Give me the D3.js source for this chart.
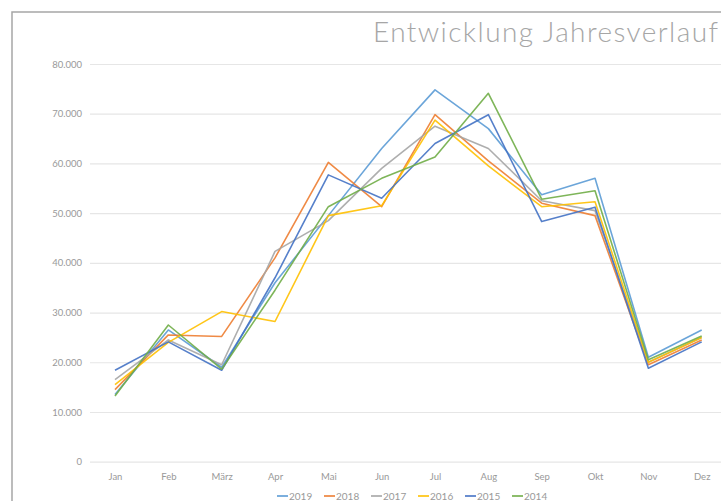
<!DOCTYPE html>
<html><head><meta charset="utf-8">
<script src="https://cdn.jsdelivr.net/npm/d3@7"></script>
<style>
html,body{margin:0;padding:0;background:#fff;overflow:hidden}
svg{display:block}
text{font-family:Lato,"Open Sans",sans-serif}
</style></head>
<body><svg id="c" width="721" height="501"></svg>
<script>
const months = ["Jan","Feb","März","Apr","Mai","Jun","Jul","Aug","Sep","Okt","Nov","Dez"];
const yTicks = [0,10000,20000,30000,40000,50000,60000,70000,80000];
const seriesNames = ["2019","2018","2017","2016","2015","2014"];
const seriesColors = ["#5B9BD5","#ED7D31","#A5A5A5","#FFC000","#4472C4","#70AD47"];
const v2019 = [13500,26500,19000,36000,49500,63000,74800,67000,53700,57000,21000,26500];
const v2018 = [14500,25500,25200,41000,60200,51300,69800,60500,52000,49500,19500,24500];
const v2017 = [16500,24500,19500,42300,48500,59000,67500,63000,52500,50500,20000,25000];
const v2016 = [15500,24000,30200,28200,49500,51500,68700,59500,51300,52300,20000,25000];
const v2015 = [18400,24100,18400,37000,57700,53000,64000,69800,48300,51200,18800,24100];
const v2014 = [13200,27500,18600,34500,51300,57000,61300,74100,52800,54500,20500,25300];
const seriesValues = [v2019,v2018,v2017,v2016,v2015,v2014];

const svg = d3.select("#c");
const W = 721, H = 501;
// chart border
svg.append("rect").attr("x",12).attr("y",12).attr("width",W).attr("height",H)
  .attr("fill","none").attr("stroke","#a6a6a6").attr("stroke-width",1.5);

const x = d3.scalePoint().domain(months).range([115, 701.7]);
const y = d3.scaleLinear().domain([0,80000]).range([461.7, 64]);
const de = d3.formatLocale({decimal:",",thousands:".",grouping:[3],currency:["","€"]});
const fmt = de.format(",.0f");

const gy = svg.append("g").attr("transform","translate(90,0)")
  .call(d3.axisLeft(y).tickValues(yTicks).tickFormat(fmt).tickSizeInner(-(W-90)).tickSizeOuter(0).tickPadding(8));
gy.select(".domain").remove();
gy.selectAll(".tick line").attr("stroke","#e6e6e6").attr("stroke-width",1.2);
gy.selectAll(".tick text").attr("fill","#999").style("font-size","9.5px");

const gx = svg.append("g").attr("transform",`translate(0,${y(0)})`)
  .call(d3.axisBottom(x).tickSize(0).tickPadding(12));
gx.select(".domain").remove();
gx.selectAll(".tick text").attr("fill","#999").style("font-size","9.5px");

const line = d3.line().x((d,i)=>x(months[i])).y(d=>y(d));
seriesValues.forEach((vals,k)=>{
  svg.append("path").datum(vals).attr("d",line).attr("fill","none")
    .attr("stroke",seriesColors[k]).attr("stroke-opacity",0.9).attr("stroke-width",1.6).attr("stroke-linejoin","round");
});

// title
svg.append("text").attr("x",718).attr("y",42).attr("text-anchor","end")
  .attr("fill","#a6a6a6").style("font-size","28px").style("font-weight","300")
  .attr("textLength",345).attr("lengthAdjust","spacing")
  .text("Entwicklung Jahresverlauf");

// legend
const lg = svg.append("g");
seriesNames.forEach((n,i)=>{
  const x0 = 277 + 47*i;
  lg.append("line").attr("x1",x0).attr("x2",x0+11).attr("y1",496).attr("y2",496)
    .attr("stroke",seriesColors[i]).attr("stroke-width",1.6);
  lg.append("text").attr("x",x0+12).attr("y",499.5).attr("fill","#999")
    .style("font-size","10px").text(n);
});
</script></body></html>
